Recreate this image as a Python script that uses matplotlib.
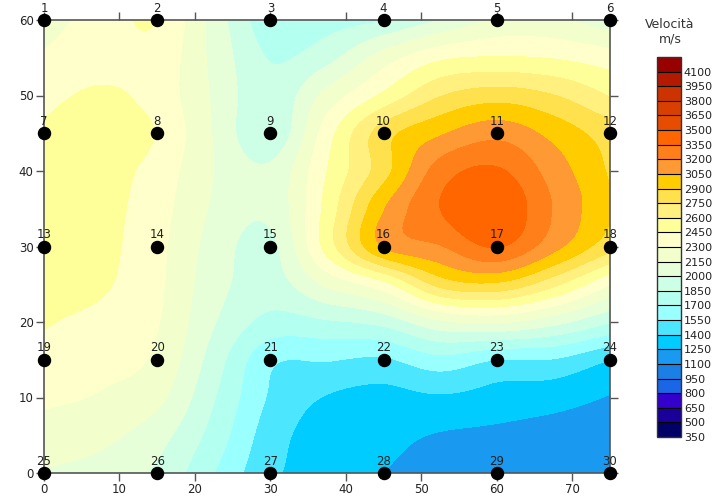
import numpy as np
import matplotlib
matplotlib.use("Agg")
import matplotlib.pyplot as plt

# griglia
x_grid = [0, 7.5, 15, 22.5, 30, 37.5, 45, 52.5, 60, 67.5, 75]
y_grid = [0, 5, 10, 15, 20, 25, 30, 35, 40, 45, 50, 55, 60]
velocity = [
    [2140, 2090, 1970, 1700, 1430, 1340, 1250, 1190, 1160, 1130, 1110],
    [2230, 2190, 2060, 1790, 1470, 1330, 1290, 1240, 1220, 1190, 1160],
    [2330, 2285, 2190, 1860, 1530, 1390, 1350, 1380, 1340, 1310, 1240],
    [2400, 2350, 2270, 1930, 1580, 1560, 1530, 1650, 1550, 1540, 1400],
    [2460, 2410, 2310, 2010, 1800, 1830, 1900, 2120, 2170, 2050, 1860],
    [2490, 2470, 2330, 2060, 1930, 2180, 2400, 2800, 2870, 2640, 2300],
    [2500, 2490, 2340, 2090, 1960, 2510, 3060, 3190, 3360, 3100, 2800],
    [2510, 2500, 2360, 2130, 2040, 2500, 3040, 3350, 3480, 3190, 2910],
    [2520, 2510, 2390, 2150, 2030, 2450, 2840, 3270, 3370, 3130, 2880],
    [2470, 2540, 2440, 2140, 1880, 2380, 2830, 3030, 3150, 3000, 2820],
    [2410, 2470, 2390, 2130, 1890, 2200, 2480, 2740, 2830, 2755, 2590],
    [2320, 2400, 2400, 2110, 1840, 1950, 2220, 2420, 2460, 2440, 2370],
    [2230, 2370, 2450, 2090, 1750, 1780, 1840, 2000, 2170, 2170, 2060],
]

levels = [350, 500, 650, 800, 950, 1100, 1250, 1400, 1550, 1700, 1850, 2000, 2150,
          2300, 2450, 2600, 2750, 2900, 3050, 3200, 3350, 3500, 3650, 3800, 3950, 4100, 4250]
colors = ["#000066", "#1A0099", "#3300CC", "#1A66E6", "#1A80E6", "#1A99F0", "#00CCFF",
          "#4DE6FF", "#99FFFF", "#B3FFF0", "#CCFFE6", "#E6FFD9", "#F2FFCC", "#FFFFCC",
          "#FFFF99", "#FFF080", "#FFE04D", "#FFCC00", "#FF9933", "#FF7F1A", "#FF6600",
          "#E64D00", "#D94000", "#CC3300", "#B31A00", "#990000"]

geo_x = [0, 15, 30, 45, 60, 75]
geo_y = [60, 45, 30, 15, 0]


def smooth_axis(z, n=12, axis=0):
    # Catmull-Rom lungo un asse, solo per arrotondare le isolinee
    z = np.moveaxis(z, axis, 0)
    z = np.concatenate([2 * z[:1] - z[1:2], z, 2 * z[-1:] - z[-2:-1]])
    t = np.arange(n) / n
    t = t.reshape(-1, *([1] * (z.ndim - 1)))
    parts = []
    for i in range(1, len(z) - 2):
        p0, p1, p2, p3 = z[i - 1], z[i], z[i + 1], z[i + 2]
        parts.append(0.5 * (2 * p1 + (p2 - p0) * t + (2 * p0 - 5 * p1 + 4 * p2 - p3) * t ** 2
                            + (3 * p1 - p0 - 3 * p2 + p3) * t ** 3))
    parts.append(z[-2:-1])
    return np.moveaxis(np.concatenate(parts), 0, axis)


W, H = 716, 497
fig = plt.figure(figsize=(W / 100, H / 100), dpi=100)
ax = fig.add_axes([44 / W, 1 - 473 / H, 566 / W, 453 / H])

n_sub = 12
z_fine = smooth_axis(smooth_axis(np.array(velocity, dtype=float), n_sub, 0), n_sub, 1)
x_fine = np.linspace(x_grid[0], x_grid[-1], z_fine.shape[1])
y_fine = np.linspace(y_grid[0], y_grid[-1], z_fine.shape[0])
cs = ax.contourf(x_fine, y_fine, z_fine, levels=levels, colors=colors, extend="neither")

ax.set_xlim(0, 75)
ax.set_ylim(0, 60)
ax.set_xticks(range(0, 71, 10))
ax.set_yticks(range(0, 61, 10))
ax.tick_params(top=True, right=True, length=6, width=1, color="#555555", labelsize=8.5,
               labelcolor="#222222", pad=1.5)
for s in ax.spines.values():
    s.set_color("#555555")
    s.set_linewidth(1.2)

n = 1
for gy in geo_y:
    for gx in geo_x:
        ax.scatter(gx, gy, s=75, color="black", clip_on=False, zorder=5)
        ax.annotate(str(n), (gx, gy), xytext=(0, 8.5), textcoords="offset points", ha="center",
                    va="center", fontsize=8.5, color="#222222", annotation_clip=False, zorder=6)
        n += 1

cax = fig.add_axes([657 / W, 1 - 437 / H, 24 / W, 380 / H])
cb = fig.colorbar(cs, cax=cax, ticks=levels[:-1], drawedges=True)
cb.dividers.set_color("black")
cb.dividers.set_linewidth(0.8)
cb.outline.set_edgecolor("#333333")
cb.outline.set_linewidth(1)
cb.ax.tick_params(length=0, labelsize=8, labelcolor="#222222", pad=2)

fig.text(670 / W, 1 - 24 / H, "Velocità", ha="center", va="center", fontsize=9, color="#333333")
fig.text(670 / W, 1 - 39 / H, "m/s", ha="center", va="center", fontsize=9, color="#333333")

fig.savefig("out.png", dpi=100)
